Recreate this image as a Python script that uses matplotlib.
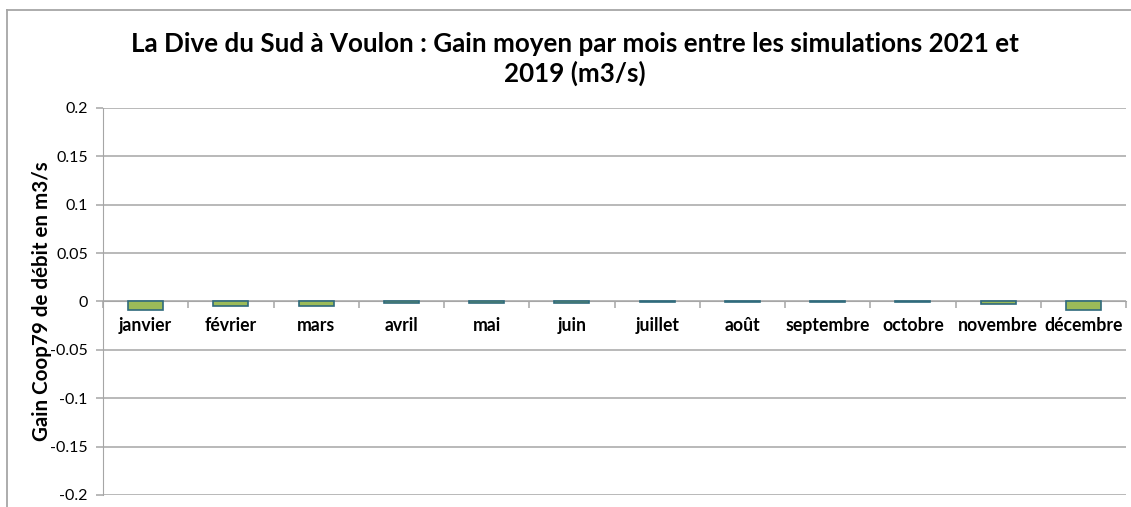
import matplotlib.pyplot as plt
from matplotlib.lines import Line2D
import numpy as np

plt.rcParams['font.family'] = ['Lato', 'DejaVu Sans']

mois = ['janvier', 'février', 'mars', 'avril', 'mai', 'juin', 'juillet',
        'août', 'septembre', 'octobre', 'novembre', 'décembre']
gain = [-0.0083, -0.005, -0.005, -0.002, -0.0012, -0.0012, -0.0006,
        -0.0006, -0.0006, -0.0006, -0.003, -0.0083]
yticks = [-0.2, -0.15, -0.1, -0.05, 0, 0.05, 0.1, 0.15, 0.2]
ytick_labels = ['-0.2', '-0.15', '-0.1', '-0.05', '0', '0.05', '0.1', '0.15', '0.2']

titre = 'La Dive du Sud à Voulon : Gain moyen par mois entre les simulations 2021 et\n2019 (m3/s)'
ylabel = 'Gain Coop79 de débit en m3/s'

fig = plt.figure(figsize=(11.31, 5.07), dpi=100)
ax = fig.add_axes([0.0911, 0.0237, 0.9045, 0.7633])

x = np.arange(len(mois))
ax.bar(x, gain, width=0.41, color='#9BBB59', edgecolor='#2F6A7C', linewidth=1.2, zorder=3)

ax.set_xlim(-0.5, len(mois) - 0.5)
ax.set_ylim(-0.2, 0.2)
ax.set_yticks(yticks)
ax.set_yticklabels(ytick_labels, fontsize=11.5)
ax.yaxis.grid(True, color='#A6A6A6', linewidth=1.1)
ax.set_axisbelow(True)

# category axis crosses at zero
ax.spines['bottom'].set_position(('data', 0))
ax.spines['bottom'].set_color('#A6A6A6')
ax.spines['left'].set_color('#A6A6A6')
ax.spines['top'].set_visible(False)
ax.spines['right'].set_visible(False)
ax.set_xticks(x)
ax.set_xticklabels(mois, fontsize=12.7, fontweight='bold')
ax.set_xticks(np.arange(-0.5, len(mois) + 0.5, 1), minor=True)
ax.tick_params(axis='x', which='major', length=0, pad=11)
ax.tick_params(axis='x', which='minor', length=5, direction='out', color='#A6A6A6', width=1.1)
ax.tick_params(axis='y', length=5, direction='out', color='#A6A6A6', width=1.1, pad=6)

ax.set_ylabel(ylabel, fontsize=14.8, fontweight='bold')
ax.yaxis.set_label_coords(-0.05, 0.5)
fig.text(0.508, 0.884, titre, ha='center', va='center', fontsize=18.7, fontweight='bold',
         linespacing=1.22)

# chart area border (cut off at right and bottom)
fig.add_artist(Line2D([7 / 1131, 7 / 1131], [0, 1 - 10 / 507], transform=fig.transFigure,
                      color='#A6A6A6', linewidth=1.3))
fig.add_artist(Line2D([7 / 1131, 1], [1 - 10 / 507, 1 - 10 / 507], transform=fig.transFigure,
                      color='#A6A6A6', linewidth=1.3))

fig.savefig('out.png', dpi=100)
